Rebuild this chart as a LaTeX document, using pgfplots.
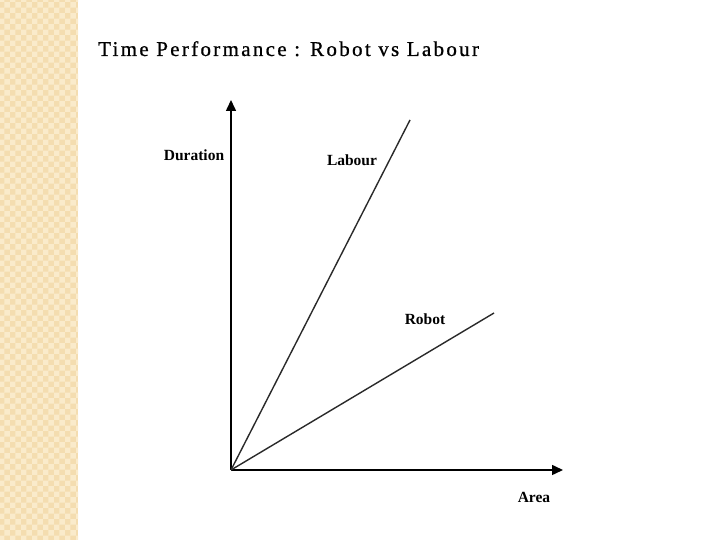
\documentclass[border=0pt]{standalone}
\usepackage{pgfplots}
\pgfplotsset{compat=1.18}
\usepackage{fontspec}
\setmainfont{Liberation Serif}
\usetikzlibrary{arrows.meta,patterns}

\definecolor{stripbase}{HTML}{F4DDB0}
\definecolor{stripdot}{HTML}{FAEBCB}
\definecolor{lineink}{HTML}{2A2A2A}

\begin{document}
\begin{tikzpicture}[x=1pt,y=1pt]
\path[use as bounding box, fill=white] (0,0) rectangle (720,540);
\fill[stripbase] (0,0) rectangle (78,540);
\fill[pattern=checkerboard, pattern color=stripdot] (0,0) rectangle (78,540);

\node[anchor=base west, inner sep=0pt,
      font=\fontsize{21}{24}\selectfont\addfontfeatures{LetterSpace=11,FakeBold=0.8}] at (98,484)
  {Time Performance : Robot vs Labour};

\begin{axis}[
    at={(231pt,70pt)}, anchor=origin,
    x=1pt, y=1pt,
    xmin=0, xmax=340, ymin=0, ymax=380,
    hide axis, clip=false,
]
% axes
\addplot[black, line width=1.5pt, -{Triangle[length=11pt,width=10pt]}]
  coordinates {(0,0) (332,0)};
\addplot[black, line width=1.5pt, -{Triangle[length=11pt,width=10pt]}]
  coordinates {(0,0) (0,370)};
% series
\addplot[lineink, line width=1.4pt] coordinates {(0,0) (179,350)};
\addplot[lineink, line width=1.4pt] coordinates {(0,0) (263,157)};
\end{axis}

\begin{scope}[every node/.style={font=\bfseries\fontsize{15.5}{18}\selectfont}]
\node at (194,385) {Duration};
\node at (352,380) {Labour};
\node at (425,221) {Robot};
\node at (534,43) {Area};
\end{scope}
\end{tikzpicture}
\end{document}
